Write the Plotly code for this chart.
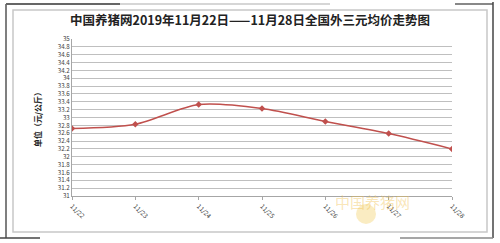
import plotly.graph_objects as go

dates = ["11/22", "11/23", "11/24", "11/25", "11/26", "11/27", "11/28"]
prices = [32.72, 32.83, 33.33, 33.23, 32.90, 32.59, 32.20]
y_ticks = [31 + 0.2 * i for i in range(21)]
y_labels = ["31", "31.2", "31.4", "31.6", "31.8", "32", "32.2", "32.4", "32.6", "32.8",
            "33", "33.2", "33.4", "33.6", "33.8", "34", "34.2", "34.4", "34.6", "34.8", "35"]

title = "中国养猪网2019年11月22日——11月28日全国外三元均价走势图"
y_title = "单位（元/公斤）"

fig = go.Figure()
fig.add_trace(go.Scatter(
    x=dates, y=prices, mode="lines+markers",
    line=dict(color="#c0504d", width=1.5, shape="spline", smoothing=0.8),
    marker=dict(symbol="diamond", size=5, color="#c0504d"),
    showlegend=False,
))

fig.update_layout(
    width=500, height=243,
    margin=dict(l=72, r=48, t=39, b=47),
    paper_bgcolor="white", plot_bgcolor="white",
    font=dict(family="Noto Sans CJK SC, sans-serif", color="#404040"),
    title=dict(text="<b>" + title + "</b>", x=0.5, xanchor="center", y=0.915, yanchor="middle",
               font=dict(size=12.5, color="#222222", family="Noto Sans CJK SC")),
)
fig.update_xaxes(
    type="category", range=[0, len(dates) - 1],
    showgrid=False, showline=True, linecolor="#a6a6a6", linewidth=1,
    ticks="outside", ticklen=3, tickcolor="#a6a6a6",
    tickangle=45, tickfont=dict(size=6.5, color="#404040"),
)
fig.update_yaxes(
    range=[31, 35], tickvals=y_ticks, ticktext=y_labels,
    showgrid=True, gridcolor="#bfbfbf", gridwidth=1,
    showline=True, linecolor="#a6a6a6", linewidth=1,
    ticks="", tickfont=dict(size=6.2, color="#404040"),
    zeroline=False,
    title=dict(text="<b>" + y_title + "</b>", font=dict(size=8, color="#222222"), standoff=14),
)

fig.update_layout(shapes=[
    dict(type="rect", xref="x domain", yref="y domain", x0=-59/380, x1=(487-72)/380,
         y0=-(232-196)/157, y1=(196-10)/157, line=dict(color="#c8c8c8", width=1.5)),
    # decorative corner strokes
    dict(type="line", xref="x domain", yref="y domain", x0=-66/380, x1=-66/380,
         y0=-(238-196)/157, y1=(196-4)/157, line=dict(color="#555555", width=1.5)),
    dict(type="line", xref="x domain", yref="y domain", x0=-66/380, x1=(120-72)/380,
         y0=(196-4)/157, y1=(196-4)/157, line=dict(color="#666666", width=2)),
    dict(type="line", xref="x domain", yref="y domain", x0=(120-72)/380, x1=(330-72)/380,
         y0=(196-4)/157, y1=(196-4)/157, line=dict(color="#c8c8c8", width=1.5)),
    dict(type="line", xref="x domain", yref="y domain", x0=(455-72)/380, x1=(493-72)/380,
         y0=(196-4)/157, y1=(196-4)/157, line=dict(color="#888888", width=2)),
    dict(type="line", xref="x domain", yref="y domain", x0=(493-72)/380, x1=(493-72)/380,
         y0=-(238-196)/157, y1=(196-2)/157, line=dict(color="#444444", width=1.5)),
    dict(type="line", xref="x domain", yref="y domain", x0=-72/380, x1=(40-72)/380,
         y0=-(238-196)/157, y1=-(238-196)/157, line=dict(color="#444444", width=1.5)),
    dict(type="line", xref="x domain", yref="y domain", x0=(400-72)/380, x1=(493-72)/380,
         y0=-(238-196)/157, y1=-(238-196)/157, line=dict(color="#888888", width=1.5)),
    # watermark circle
    dict(type="circle", xref="x domain", yref="y domain", x0=(356-72)/380, x1=(376-72)/380,
         y0=-(224-196)/157, y1=-(204-196)/157, line=dict(width=0),
         fillcolor="rgba(240,200,80,0.35)"),
])
fig.add_annotation(text="中国养猪网", xref="x domain", yref="y domain",
                   x=(412-72)/380, y=-(214-196)/157, showarrow=False,
                   font=dict(size=15, color="rgba(240,190,70,0.4)", family="Noto Sans CJK SC"))

fig.write_html("out.html")
